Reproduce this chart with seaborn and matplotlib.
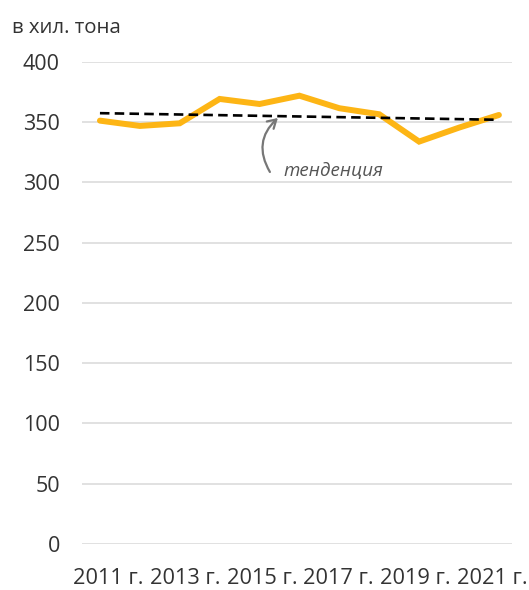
#
# plot.py
#   - Line chart of yearly volume with a dashed trend line.
#

import numpy as np
import pandas as pd
import seaborn as sns
import matplotlib.pyplot as plt

years = [2011, 2012, 2013, 2014, 2015, 2016, 2017, 2018, 2019, 2020, 2021]
values = [351.3, 346.9, 349.1, 369.3, 365.1, 372.0, 361.6, 356.6, 333.9, 345.5, 356.0]

trend_years = [2011, 2021]
trend_values = [357.5, 352.0]

tick_labels = ["2011 г.", "2013 г.", "2015 г.", "2017 г.", "2019 г.", "2021 г."]
y_ticks = [0, 50, 100, 150, 200, 250, 300, 350, 400]
unit_label = "в хил. тона"
trend_label = "тенденция"


def main():
    sns.set_theme(style="white")
    plt.rcParams['font.family'] = ['Open Sans', 'DejaVu Sans']

    df = pd.DataFrame({"year": years, "value": values})
    trend = pd.DataFrame({"year": trend_years, "value": trend_values})

    fig = plt.figure(figsize=(5.29, 5.90), dpi=100)
    ax = fig.add_axes([0.155, 0.078, 0.813, 0.817])

    # gridlines
    for y in y_ticks:
        ax.axhline(y, color="#dedede", lw=1.3, zorder=0)

    sns.lineplot(data=df, x="year", y="value", ax=ax, color="#FDB515",
                 lw=4.3, solid_joinstyle="miter", zorder=3)
    sns.lineplot(data=trend, x="year", y="value", ax=ax, color="black",
                 lw=1.9, linestyle=(0, (3.6, 2.0)), zorder=4)

    ax.set_xlim(2010.55, 2021.33)
    ax.set_ylim(0, 400)
    ax.set_yticks(y_ticks)
    ax.set_yticklabels([str(v) for v in y_ticks], fontsize=15.5, color="#333333")
    ax.set_xticks(np.linspace(2011.21, 2020.83, len(tick_labels)))
    ax.set_xticklabels(tick_labels, fontsize=15.7, color="#333333")
    ax.tick_params(axis="y", length=0, pad=16)
    ax.tick_params(axis="x", length=0, pad=17)
    ax.set_xlabel("")
    ax.set_ylabel("")
    sns.despine(ax=ax, left=True, bottom=True)

    # trend annotation
    ax.annotate("", xy=(2015.46, 353.5), xytext=(2015.26, 308.7),
                arrowprops=dict(arrowstyle="->,head_length=0.5,head_width=0.3",
                                color="#777777", lw=1.6,
                                connectionstyle="arc3,rad=-0.4",
                                shrinkA=0, shrinkB=0))
    ax.text(2015.59, 309.5, trend_label, fontsize=13.5, style="italic",
            color="#555555", ha="left", va="center")

    fig.text(12 / 529, 1 - 28 / 590, unit_label, fontsize=14.7,
             color="#333333", va="center", ha="left")

    plt.savefig("out.png", dpi=100)


if __name__ == '__main__':
    main()
